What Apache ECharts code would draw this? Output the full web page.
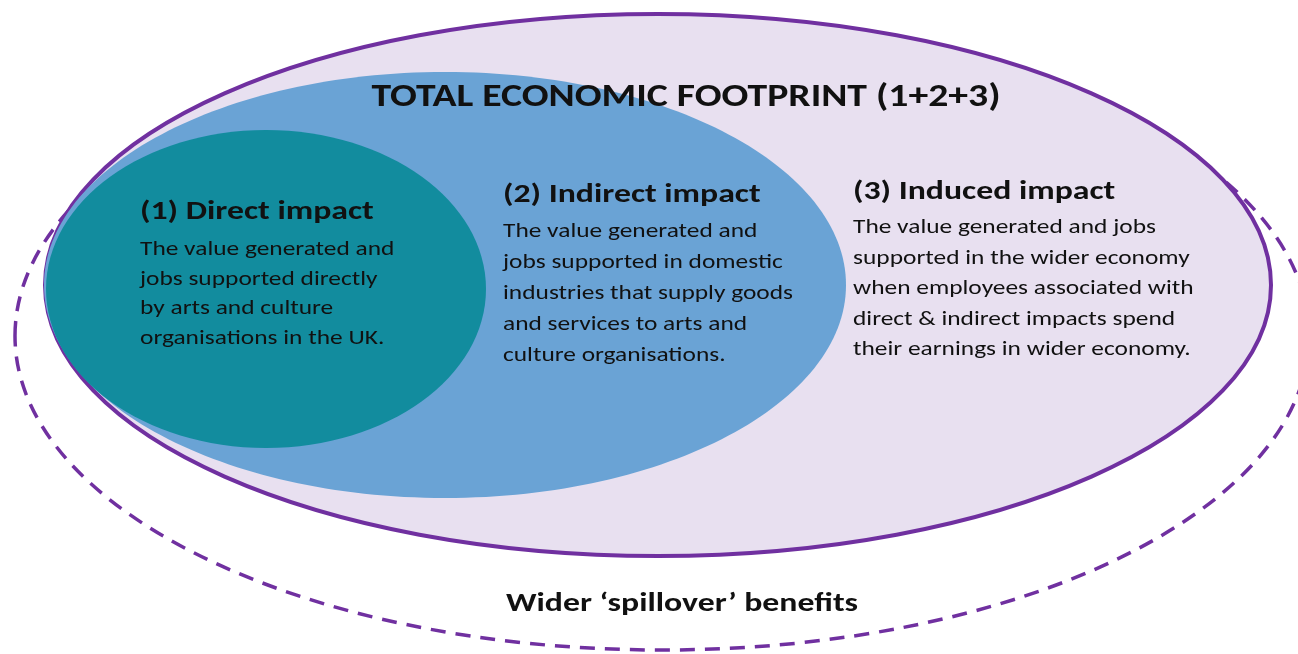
<!DOCTYPE html>
<html>
<head>
<meta charset="utf-8">
<script src="https://cdn.jsdelivr.net/npm/echarts@6/dist/echarts.min.js"></script>
<style>
  html, body { margin: 0; padding: 0; background: #ffffff; }
  #chart { width: 1298px; height: 654px; }
</style>
</head>
<body>
<div id="chart"></div>
<script>
// diagram units: x 0..1298, y 0..654 (top down)
const ellipseNames = ['Wider spillover', 'Total footprint', 'Indirect', 'Direct'];
const ellipseCx = [662, 658, 445, 266];
const ellipseCy = [336, 285, 285, 289];
const ellipseRx = [647, 613, 401, 220];
const ellipseRy = [314, 271, 213, 159];

const headline = 'TOTAL ECONOMIC FOOTPRINT (1+2+3)';
const footer = 'Wider \u2018spillover\u2019 benefits';

const blockTitles = ['(1) Direct impact', '(2) Indirect impact', '(3) Induced impact'];
const blockLines = [
  ['The value generated and', 'jobs supported directly', 'by arts and culture', 'organisations in the UK.'],
  ['The value generated and', 'jobs supported in domestic', 'industries that supply goods', 'and services to arts and', 'culture organisations.'],
  ['The value generated and jobs', 'supported in the wider economy', 'when employees associated with', 'direct & indirect impacts spend', 'their earnings in wider economy.']
];
const blockX = [140, 503, 853];
const blockTitleY = [212, 195, 192];
const blockBodyY = [250, 232, 228];
const blockStep = [29.5, 31, 30.5];

const ellipseStyles = [
  { fill: 'none', stroke: '#7030A0', lineWidth: 3.5, lineDash: [15, 10] },
  { fill: '#E8E0F0', stroke: '#7030A0', lineWidth: 4 },
  { fill: '#6AA3D5', stroke: null },
  { fill: '#128C9E', stroke: null }
];

const FONT = 'Carlito, Lato, "Open Sans", sans-serif';

// text rows: [x, y, textIndex]
const texts = [];
const textRows = [];
texts.push({ text: headline, font: 'bold 32px ' + FONT, align: 'center', sx: 1.24 });
textRows.push([686, 98, texts.length - 1]);
blockTitles.forEach((t, i) => {
  texts.push({ text: t, font: 'bold 27px ' + FONT, align: 'left', sx: 1.25 });
  textRows.push([blockX[i], blockTitleY[i], texts.length - 1]);
  blockLines[i].forEach((l, j) => {
    texts.push({ text: l, font: '21px ' + FONT, align: 'left', sx: 1.21 });
    textRows.push([blockX[i], blockBodyY[i] + j * blockStep[i], texts.length - 1]);
  });
});
texts.push({ text: footer, font: 'bold 27px ' + FONT, align: 'center', sx: 1.25 });
textRows.push([682, 604, texts.length - 1]);

const chart = echarts.init(document.getElementById('chart'));

const option = {
  animation: false,
  grid: { left: 0, right: 0, top: 0, bottom: 0 },
  xAxis: { type: 'value', min: 0, max: 1298, show: false },
  yAxis: { type: 'value', min: 0, max: 654, inverse: true, show: false },
  series: [
    {
      type: 'custom',
      name: 'ellipses',
      silent: true,
      clip: false,
      encode: { x: 0, y: 1 },
      data: ellipseNames.map((n, i) => [ellipseCx[i], ellipseCy[i], ellipseRx[i], ellipseRy[i]]),
      renderItem: function (params, api) {
        const c = api.coord([api.value(0), api.value(1)]);
        const s = api.size([api.value(2), api.value(3)]);
        return {
          type: 'ellipse',
          shape: { cx: c[0], cy: c[1], rx: s[0], ry: s[1] },
          style: ellipseStyles[params.dataIndex]
        };
      }
    },
    {
      type: 'custom',
      name: 'labels',
      silent: true,
      clip: false,
      encode: { x: 0, y: 1 },
      data: textRows,
      renderItem: function (params, api) {
        const p = api.coord([api.value(0), api.value(1)]);
        const t = texts[api.value(2)];
        return {
          type: 'text',
          x: p[0],
          y: p[1],
          scaleX: t.sx,
          style: {
            text: t.text,
            font: t.font,
            fill: '#111111',
            align: t.align,
            verticalAlign: 'middle',
            textAlign: t.align,
            textVerticalAlign: 'middle'
          }
        };
      }
    }
  ]
};

chart.setOption(option);

window.addEventListener('resize', () => {
  chart.resize();
});
</script>
</body>
</html>
